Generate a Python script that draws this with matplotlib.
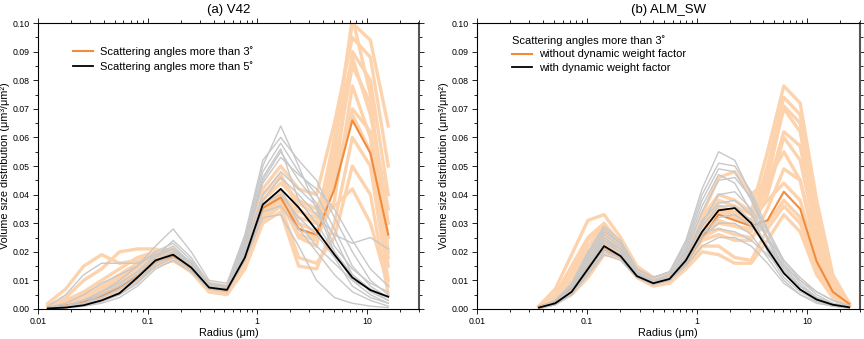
from __future__ import annotations

import matplotlib
import matplotlib.pyplot as plt
from matplotlib.ticker import FixedLocator, FuncFormatter, LogLocator, MultipleLocator, NullFormatter

matplotlib.use("Agg")

plt.rcParams["font.family"] = ["Liberation Sans", "DejaVu Sans"]

# radius bins (um)
radius_v42 = [0.0123, 0.0179, 0.0261, 0.0380, 0.0554, 0.0807, 0.118, 0.171, 0.250, 0.364,
              0.530, 0.772, 1.125, 1.64, 2.39, 3.48, 5.07, 7.39, 10.8, 15.7]
radius_alm = [0.0366, 0.0515, 0.0725, 0.102, 0.143, 0.202, 0.284, 0.400, 0.562, 0.791,
              1.11, 1.57, 2.20, 3.10, 4.36, 6.14, 8.64, 12.2, 17.1, 24.1]

# (a) V42 - mean curves
v42_mean_3deg = [0.0005, 0.0012, 0.0025, 0.0045, 0.0075, 0.0115, 0.0165, 0.0185, 0.0140, 0.0072,
                 0.0065, 0.0175, 0.0353, 0.0390, 0.0280, 0.0260, 0.0420, 0.0660, 0.0545, 0.0260]
v42_mean_5deg = [0.0002, 0.0005, 0.0013, 0.0030, 0.0055, 0.0110, 0.0170, 0.0190, 0.0145, 0.0075,
                 0.0067, 0.0180, 0.0365, 0.0420, 0.0355, 0.0275, 0.0190, 0.0110, 0.0066, 0.0043]

# (a) V42 - individual retrievals, >3 deg
v42_runs_3deg = [
    [0.002, 0.007, 0.015, 0.019, 0.016, 0.017, 0.020, 0.021, 0.015, 0.008, 0.007, 0.020, 0.040, 0.047, 0.035, 0.030, 0.060, 0.100, 0.094, 0.064],
    [0.001, 0.004, 0.010, 0.014, 0.020, 0.021, 0.021, 0.019, 0.013, 0.007, 0.006, 0.016, 0.033, 0.038, 0.025, 0.022, 0.055, 0.102, 0.075, 0.020],
    [0.001, 0.003, 0.006, 0.010, 0.014, 0.018, 0.020, 0.020, 0.015, 0.008, 0.007, 0.018, 0.036, 0.041, 0.030, 0.027, 0.045, 0.090, 0.080, 0.040],
    [0.0005, 0.002, 0.004, 0.007, 0.010, 0.014, 0.018, 0.019, 0.014, 0.007, 0.0065, 0.017, 0.034, 0.039, 0.028, 0.025, 0.038, 0.078, 0.060, 0.015],
    [0.0005, 0.001, 0.003, 0.005, 0.008, 0.012, 0.016, 0.018, 0.014, 0.0075, 0.007, 0.019, 0.038, 0.044, 0.038, 0.035, 0.050, 0.085, 0.072, 0.030],
    [0.0003, 0.001, 0.002, 0.004, 0.006, 0.010, 0.015, 0.017, 0.013, 0.006, 0.005, 0.014, 0.030, 0.034, 0.015, 0.014, 0.030, 0.060, 0.050, 0.010],
    [0.001, 0.002, 0.005, 0.008, 0.012, 0.016, 0.019, 0.020, 0.016, 0.009, 0.008, 0.021, 0.042, 0.050, 0.042, 0.040, 0.065, 0.095, 0.088, 0.050],
    [0.0002, 0.0008, 0.002, 0.004, 0.007, 0.011, 0.015, 0.017, 0.014, 0.008, 0.007, 0.018, 0.035, 0.040, 0.032, 0.030, 0.036, 0.042, 0.030, 0.008],
    [0.0005, 0.001, 0.003, 0.006, 0.009, 0.013, 0.017, 0.019, 0.015, 0.0085, 0.0075, 0.020, 0.040, 0.046, 0.037, 0.033, 0.045, 0.070, 0.062, 0.025],
    [0.0003, 0.001, 0.002, 0.004, 0.007, 0.011, 0.016, 0.018, 0.013, 0.0065, 0.006, 0.016, 0.031, 0.036, 0.018, 0.016, 0.025, 0.050, 0.040, 0.005],
    [0.001, 0.002, 0.004, 0.007, 0.011, 0.015, 0.018, 0.020, 0.014, 0.006, 0.0055, 0.015, 0.032, 0.037, 0.026, 0.024, 0.058, 0.088, 0.068, 0.035],
    [0.0005, 0.001, 0.003, 0.005, 0.008, 0.013, 0.018, 0.020, 0.015, 0.007, 0.006, 0.017, 0.034, 0.040, 0.034, 0.032, 0.048, 0.068, 0.055, 0.018],
]

# (a) V42 - individual retrievals, >5 deg
v42_runs_5deg = [
    [0.001, 0.005, 0.012, 0.016, 0.016, 0.016, 0.019, 0.021, 0.016, 0.009, 0.008, 0.025, 0.050, 0.064, 0.050, 0.035, 0.020, 0.010, 0.005, 0.002],
    [0.0005, 0.002, 0.005, 0.009, 0.012, 0.015, 0.020, 0.023, 0.017, 0.009, 0.008, 0.024, 0.048, 0.058, 0.048, 0.040, 0.028, 0.015, 0.008, 0.004],
    [0.0003, 0.001, 0.003, 0.006, 0.009, 0.013, 0.019, 0.022, 0.016, 0.008, 0.007, 0.022, 0.045, 0.055, 0.045, 0.037, 0.025, 0.012, 0.006, 0.003],
    [0.0002, 0.0008, 0.002, 0.004, 0.007, 0.011, 0.017, 0.020, 0.015, 0.008, 0.007, 0.019, 0.038, 0.046, 0.040, 0.033, 0.026, 0.023, 0.025, 0.021],
    [0.0002, 0.0005, 0.0015, 0.003, 0.005, 0.009, 0.015, 0.018, 0.014, 0.0075, 0.007, 0.018, 0.034, 0.036, 0.028, 0.020, 0.012, 0.006, 0.003, 0.001],
    [0.0001, 0.0004, 0.001, 0.002, 0.004, 0.008, 0.014, 0.017, 0.013, 0.007, 0.006, 0.017, 0.032, 0.033, 0.022, 0.010, 0.004, 0.002, 0.001, 0.0005],
    [0.0005, 0.001, 0.003, 0.006, 0.010, 0.015, 0.022, 0.028, 0.020, 0.010, 0.009, 0.026, 0.052, 0.060, 0.052, 0.045, 0.032, 0.020, 0.010, 0.005],
    [0.0003, 0.001, 0.002, 0.005, 0.008, 0.012, 0.018, 0.021, 0.016, 0.008, 0.0075, 0.021, 0.040, 0.048, 0.042, 0.036, 0.022, 0.014, 0.009, 0.006],
    [0.0002, 0.0006, 0.0015, 0.003, 0.006, 0.010, 0.016, 0.019, 0.014, 0.0075, 0.007, 0.020, 0.036, 0.042, 0.030, 0.022, 0.016, 0.010, 0.007, 0.003],
    [0.0003, 0.001, 0.002, 0.004, 0.007, 0.011, 0.017, 0.020, 0.016, 0.0085, 0.008, 0.022, 0.044, 0.053, 0.047, 0.042, 0.035, 0.024, 0.014, 0.008],
    [0.0002, 0.0005, 0.001, 0.0025, 0.005, 0.009, 0.016, 0.019, 0.015, 0.008, 0.007, 0.019, 0.037, 0.040, 0.032, 0.026, 0.018, 0.008, 0.004, 0.002],
    [0.0004, 0.001, 0.003, 0.005, 0.008, 0.012, 0.018, 0.024, 0.018, 0.009, 0.008, 0.023, 0.046, 0.056, 0.038, 0.030, 0.020, 0.012, 0.007, 0.004],
]

# (b) ALM_SW - mean curves
alm_mean_nodwf = [0.0008, 0.0025, 0.0075, 0.0150, 0.0210, 0.0180, 0.0115, 0.0092, 0.0105, 0.0160,
                  0.0250, 0.0330, 0.0310, 0.0290, 0.0310, 0.0410, 0.0350, 0.0166, 0.0060, 0.0018]
alm_mean_dwf = [0.0005, 0.0020, 0.0060, 0.0140, 0.0220, 0.0185, 0.0115, 0.0090, 0.0105, 0.0170,
                0.0270, 0.0345, 0.0353, 0.0300, 0.0210, 0.0125, 0.0068, 0.0033, 0.0015, 0.0006]

# (b) ALM_SW - individual retrievals, without dynamic weight factor
alm_runs_nodwf = [
    [0.001, 0.007, 0.019, 0.031, 0.033, 0.025, 0.015, 0.011, 0.012, 0.020, 0.032, 0.040, 0.038, 0.034, 0.055, 0.078, 0.072, 0.038, 0.012, 0.002],
    [0.001, 0.005, 0.015, 0.025, 0.030, 0.023, 0.014, 0.010, 0.011, 0.018, 0.028, 0.034, 0.032, 0.030, 0.050, 0.074, 0.068, 0.035, 0.010, 0.002],
    [0.0008, 0.004, 0.012, 0.022, 0.028, 0.022, 0.013, 0.010, 0.011, 0.017, 0.026, 0.030, 0.029, 0.027, 0.045, 0.071, 0.065, 0.032, 0.009, 0.0015],
    [0.0005, 0.003, 0.009, 0.018, 0.025, 0.021, 0.013, 0.0095, 0.011, 0.018, 0.030, 0.038, 0.036, 0.033, 0.042, 0.062, 0.057, 0.028, 0.008, 0.0015],
    [0.0005, 0.003, 0.008, 0.016, 0.023, 0.020, 0.012, 0.009, 0.010, 0.016, 0.024, 0.026, 0.024, 0.024, 0.035, 0.049, 0.045, 0.022, 0.007, 0.0012],
    [0.0005, 0.002, 0.006, 0.013, 0.021, 0.019, 0.012, 0.009, 0.010, 0.015, 0.022, 0.022, 0.018, 0.017, 0.028, 0.036, 0.030, 0.014, 0.005, 0.001],
    [0.0003, 0.002, 0.005, 0.011, 0.019, 0.018, 0.011, 0.008, 0.009, 0.014, 0.020, 0.019, 0.016, 0.016, 0.024, 0.033, 0.027, 0.012, 0.004, 0.001],
    [0.0008, 0.004, 0.010, 0.020, 0.026, 0.022, 0.014, 0.010, 0.011, 0.019, 0.033, 0.046, 0.048, 0.040, 0.045, 0.055, 0.045, 0.020, 0.006, 0.0012],
    [0.0005, 0.003, 0.008, 0.017, 0.024, 0.021, 0.013, 0.010, 0.011, 0.018, 0.028, 0.035, 0.033, 0.031, 0.038, 0.044, 0.038, 0.018, 0.006, 0.001],
    [0.0006, 0.003, 0.009, 0.019, 0.027, 0.022, 0.013, 0.0095, 0.010, 0.016, 0.025, 0.028, 0.026, 0.025, 0.030, 0.038, 0.032, 0.016, 0.005, 0.001],
    [0.001, 0.005, 0.014, 0.024, 0.029, 0.023, 0.014, 0.010, 0.011, 0.018, 0.029, 0.036, 0.034, 0.031, 0.048, 0.070, 0.062, 0.030, 0.009, 0.002],
    [0.0004, 0.002, 0.007, 0.015, 0.022, 0.020, 0.012, 0.009, 0.010, 0.017, 0.027, 0.031, 0.029, 0.028, 0.040, 0.060, 0.052, 0.025, 0.007, 0.0012],
]

# (b) ALM_SW - individual retrievals, with dynamic weight factor
alm_runs_dwf = [
    [0.0006, 0.003, 0.009, 0.020, 0.029, 0.024, 0.014, 0.011, 0.013, 0.024, 0.042, 0.055, 0.052, 0.040, 0.024, 0.013, 0.007, 0.003, 0.0012, 0.0005],
    [0.0005, 0.002, 0.008, 0.018, 0.027, 0.023, 0.014, 0.011, 0.013, 0.022, 0.038, 0.049, 0.048, 0.038, 0.025, 0.014, 0.008, 0.004, 0.0015, 0.0006],
    [0.0004, 0.002, 0.007, 0.016, 0.025, 0.021, 0.013, 0.010, 0.012, 0.020, 0.034, 0.045, 0.046, 0.039, 0.027, 0.016, 0.009, 0.004, 0.0018, 0.0007],
    [0.0003, 0.002, 0.006, 0.014, 0.023, 0.020, 0.012, 0.0095, 0.011, 0.018, 0.030, 0.040, 0.041, 0.035, 0.025, 0.015, 0.008, 0.004, 0.0015, 0.0006],
    [0.0004, 0.002, 0.006, 0.013, 0.021, 0.018, 0.0115, 0.009, 0.010, 0.016, 0.025, 0.030, 0.030, 0.026, 0.018, 0.010, 0.005, 0.0025, 0.001, 0.0004],
    [0.0003, 0.0015, 0.005, 0.012, 0.019, 0.017, 0.011, 0.0085, 0.010, 0.015, 0.022, 0.025, 0.025, 0.022, 0.016, 0.009, 0.005, 0.002, 0.001, 0.0003],
    [0.0005, 0.003, 0.008, 0.017, 0.026, 0.022, 0.013, 0.010, 0.011, 0.019, 0.031, 0.037, 0.038, 0.033, 0.025, 0.017, 0.011, 0.006, 0.003, 0.001],
    [0.0004, 0.002, 0.006, 0.015, 0.024, 0.021, 0.013, 0.010, 0.012, 0.021, 0.036, 0.047, 0.044, 0.034, 0.020, 0.011, 0.006, 0.003, 0.0012, 0.0005],
    [0.0003, 0.0015, 0.005, 0.013, 0.022, 0.019, 0.012, 0.009, 0.010, 0.016, 0.026, 0.032, 0.033, 0.029, 0.022, 0.015, 0.010, 0.006, 0.003, 0.0012],
    [0.0005, 0.002, 0.007, 0.016, 0.024, 0.020, 0.0125, 0.0095, 0.011, 0.018, 0.029, 0.036, 0.036, 0.031, 0.022, 0.013, 0.007, 0.0035, 0.0015, 0.0006],
    [0.0003, 0.0015, 0.005, 0.012, 0.020, 0.018, 0.0115, 0.009, 0.010, 0.017, 0.027, 0.028, 0.027, 0.024, 0.019, 0.013, 0.008, 0.004, 0.002, 0.0008],
    [0.0006, 0.003, 0.008, 0.019, 0.028, 0.023, 0.014, 0.011, 0.013, 0.023, 0.040, 0.051, 0.050, 0.041, 0.028, 0.017, 0.010, 0.005, 0.002, 0.0008],
]

PEACH = "#FDD3AE"
ORANGE = "#F28C3C"
GREY = "#C8C8C8"


def style_axes(ax):
    ax.set_xscale("log")
    ax.set_xlim(0.01, 30)
    ax.set_ylim(0, 0.1)
    ax.xaxis.set_major_locator(FixedLocator([0.01, 0.1, 1, 10]))
    ax.xaxis.set_major_formatter(FuncFormatter(lambda v, p: f"{v:g}"))
    ax.xaxis.set_minor_locator(LogLocator(base=10, subs=range(2, 10)))
    ax.xaxis.set_minor_formatter(NullFormatter())
    ax.yaxis.set_major_locator(MultipleLocator(0.01))
    ax.yaxis.set_minor_locator(MultipleLocator(0.005))
    ax.yaxis.set_major_formatter(FuncFormatter(lambda v, p: f"{v:.2f}"))
    ax.tick_params(which="both", direction="out", top=True, right=True, labelsize=6.3, width=0.6, pad=2.5)
    ax.tick_params(which="major", length=3.5)
    ax.tick_params(which="minor", length=2)
    for s in ["left", "bottom", "top"]:
        ax.spines[s].set_linewidth(0.8)
    ax.spines["right"].set_linewidth(1.5)
    ax.spines["right"].set_color("#555555")
    ax.set_xlabel("Radius (\u03bcm)", fontsize=7.8, labelpad=1)
    ax.set_ylabel("Volume size distribution (\u03bcm\u00b3/\u03bcm\u00b2)", fontsize=7.8, labelpad=2)


def draw_panel(ax, radius, runs_a, mean_a, runs_b, mean_b):
    for r in runs_a:
        ax.plot(radius, r, color=PEACH, lw=2.4)
    la, = ax.plot(radius, mean_a, color=ORANGE, lw=1.5)
    for r in runs_b:
        ax.plot(radius, r, color=GREY, lw=1.0)
    lb, = ax.plot(radius, mean_b, color="black", lw=1.3)
    return la, lb


fig = plt.figure(figsize=(8.64, 3.39), dpi=100)
ax1 = fig.add_axes([0.044, 0.0885, 0.441, 0.8435])
ax2 = fig.add_axes([0.552, 0.0885, 0.443, 0.8435])

la, lb = draw_panel(ax1, radius_v42, v42_runs_3deg, v42_mean_3deg, v42_runs_5deg, v42_mean_5deg)
style_axes(ax1)
ax1.set_title("(a) V42", fontsize=9.5, pad=7)
ax1.legend([la, lb], ["Scattering angles more than 3\u02da", "Scattering angles more than 5\u02da"],
           loc="upper left", bbox_to_anchor=(0.08, 0.935), frameon=False, fontsize=8,
           handlelength=1.8, handletextpad=0.6, labelspacing=0.35, borderaxespad=0)

la, lb = draw_panel(ax2, radius_alm, alm_runs_nodwf, alm_mean_nodwf, alm_runs_dwf, alm_mean_dwf)
style_axes(ax2)
ax2.set_title("(b) ALM_SW", fontsize=9.5, pad=7)
ax2.legend([la, lb], ["without dynamic weight factor", "with dynamic weight factor"],
           title="Scattering angles more than 3\u02da", title_fontsize=8, alignment="left",
           loc="upper left", bbox_to_anchor=(0.08, 0.975), frameon=False, fontsize=8,
           handlelength=1.8, handletextpad=0.6, labelspacing=0.35, borderaxespad=0)

fig.savefig("out.png", dpi=100)
plt.close(fig)
